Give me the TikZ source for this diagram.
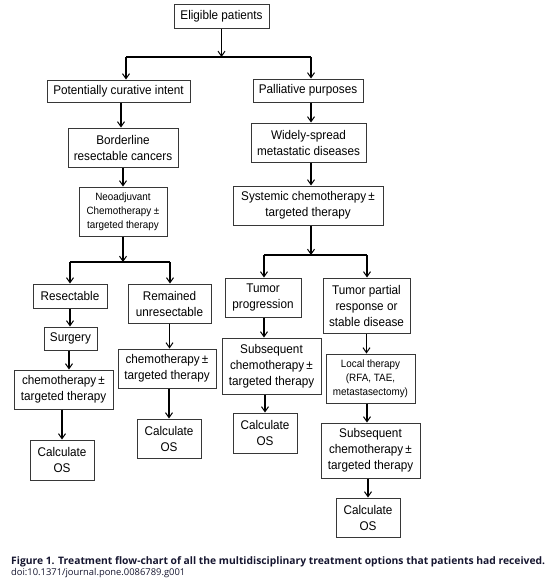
\documentclass[tikz,border=0pt]{standalone}
\usepackage{fontspec}
\setmainfont{Liberation Sans}[FakeStretch=0.93]
\newfontfamily\capfont{Open Sans}
\usetikzlibrary{arrows.meta,calc}
\definecolor{capcol}{RGB}{22,22,48}
\definecolor{boxline}{RGB}{55,55,55}
\begin{document}
\begin{tikzpicture}[x=1pt,y=-1pt,
  box/.style={draw=boxline,line width=1pt,fill=white,inner sep=0pt,align=center,
    font=\fontsize{12.6}{16}\selectfont},
  smallbox/.style={box,font=\fontsize{10.6}{14}\selectfont},
  arr/.style={line width=1.2pt,-{Straight Barb[length=5pt,width=7pt,line width=1pt]}},
  ln/.style={line width=1.2pt}]
\useasboundingbox[fill=white] (0,0) rectangle (552,584);
% nodes
\node[box,minimum width=95pt,minimum height=24pt] (elig) at (221.5,16) {Eligible patients};
\node[box,minimum width=143pt,minimum height=22pt] (cur) at (118.5,91) {Potentially curative intent};
\node[box,minimum width=110pt,minimum height=23pt] (pal) at (308,90.5) {Palliative purposes};
\node[box,minimum width=110pt,minimum height=39pt] (bord) at (123,147.5) {Borderline\\resectable cancers};
\node[box,minimum width=115pt,minimum height=39pt] (wide) at (308.5,142.5) {Widely-spread\\metastatic diseases};
\node[smallbox,minimum width=88pt,minimum height=49pt] (neo) at (123,211.5) {Neoadjuvant\\Chemotherapy ±\\targeted therapy};
\node[box,minimum width=150pt,minimum height=39pt] (sys) at (308,205.5) {Systemic chemotherapy\,±\\targeted therapy};
\node[box,minimum width=74pt,minimum height=24pt] (res) at (70,296) {Resectable};
\node[box,minimum width=83pt,minimum height=39pt] (rem) at (169.5,303.5) {Remained\\unresectable};
\node[box,minimum width=76pt,minimum height=39pt] (prog) at (263,297.5) {Tumor\\progression};
\node[box,minimum width=87pt,minimum height=55pt] (part) at (366.5,305.5) {Tumor partial\\response or\\stable disease};
\node[box,minimum width=53pt,minimum height=23pt] (surg) at (70.5,338.5) {Surgery};
\node[box,minimum width=99pt,minimum height=39pt] (chL) at (63.5,389.5) {chemotherapy\,±\\targeted therapy};
\node[box,minimum width=98pt,minimum height=39pt] (chM) at (167,368.5) {chemotherapy\,±\\targeted therapy};
\node[box,minimum width=99pt,minimum height=56pt] (subM) at (271.5,366) {Subsequent\\chemotherapy\,±\\targeted therapy};
\node[smallbox,minimum width=89pt,minimum height=49pt] (loc) at (370.5,378.5) {Local therapy\\(RFA, TAE,\\metastasectomy)};
\node[box,minimum width=64pt,minimum height=40pt] (osL) at (62,460) {Calculate\\OS};
\node[box,minimum width=64pt,minimum height=39pt] (osM) at (169,438.5) {Calculate\\OS};
\node[box,minimum width=64pt,minimum height=40pt] (osR1) at (265,433) {Calculate\\OS};
\node[box,minimum width=99pt,minimum height=55pt] (subR) at (370.5,450.5) {Subsequent\\chemotherapy\,±\\targeted therapy};
\node[box,minimum width=64pt,minimum height=39pt] (osR2) at (368,517.5) {Calculate\\OS};
% junctions
\coordinate (j1) at (221.5,57);
\coordinate (j1l) at (126,57);
\coordinate (j1r) at (311,57);
\coordinate (j2) at (123,262);
\coordinate (j2l) at (70,262);
\coordinate (j2r) at (170,262);
\coordinate (j3) at (311,255);
\coordinate (j3l) at (264,255);
\coordinate (j3r) at (367,255);
% connectors
\draw[arr] (elig.south) -- (j1);
\draw[ln] (j1l) -- (j1r);
\draw[arr] (j1l) -- (j1l |- cur.north);
\draw[arr] (j1r) -- (j1r |- pal.north);
\draw[arr] ([xshift=2.5pt]cur.south) -- ([xshift=2.5pt]cur.south |- bord.north);
\draw[arr] (bord.south) -- (bord.south |- neo.north);
\draw[arr] (neo.south) -- (j2);
\draw[ln] (j2l) -- (j2r);
\draw[arr] (j2l) -- (j2l |- res.north);
\draw[arr] (j2r) -- (j2r |- rem.north);
\draw[arr] (res.south) -- (res.south |- surg.north);
\draw[arr] ([xshift=-1.5pt]surg.south) -- ([xshift=-1.5pt]surg.south |- chL.north);
\draw[arr] (osL.north |- chL.south) -- (osL.north);
\draw[arr] (rem.south) -- (rem.south |- chM.north);
\draw[arr] (osM.north |- chM.south) -- (osM.north);
\draw[arr] ([xshift=3pt]pal.south) -- ([xshift=3pt]pal.south |- wide.north);
\draw[arr] ([xshift=2.5pt]wide.south) -- ([xshift=2.5pt]wide.south |- sys.north);
\draw[arr] (sys.south -| j3) -- (j3);
\draw[ln] (j3l) -- (j3r);
\draw[arr] (j3l) -- (j3l |- prog.north);
\draw[arr] (j3r) -- (j3r |- part.north);
\draw[arr] ([xshift=1pt]prog.south) -- ([xshift=1pt]prog.south |- subM.north);
\draw[arr] (osR1.north |- subM.south) -- (osR1.north);
\draw[arr] (part.south) -- (part.south |- loc.north);
\draw[arr] ([xshift=-3.5pt]loc.south) -- ([xshift=-3.5pt]loc.south |- subR.north);
\draw[arr] (osR2.north |- subR.south) -- (osR2.north);
% caption
\node[anchor=base west,inner sep=0pt,text=capcol] (cap) at (11,564.5)
  {\resizebox{534pt}{!}{\capfont\bfseries Figure 1. Treatment flow-chart of all the multidisciplinary treatment options that patients had received.}};
\node[anchor=base west,inner sep=0pt,text=capcol] (doi) at (11,575.5)
  {\resizebox{174pt}{!}{\capfont doi:10.1371/journal.pone.0086789.g001}};
\end{tikzpicture}
\end{document}
